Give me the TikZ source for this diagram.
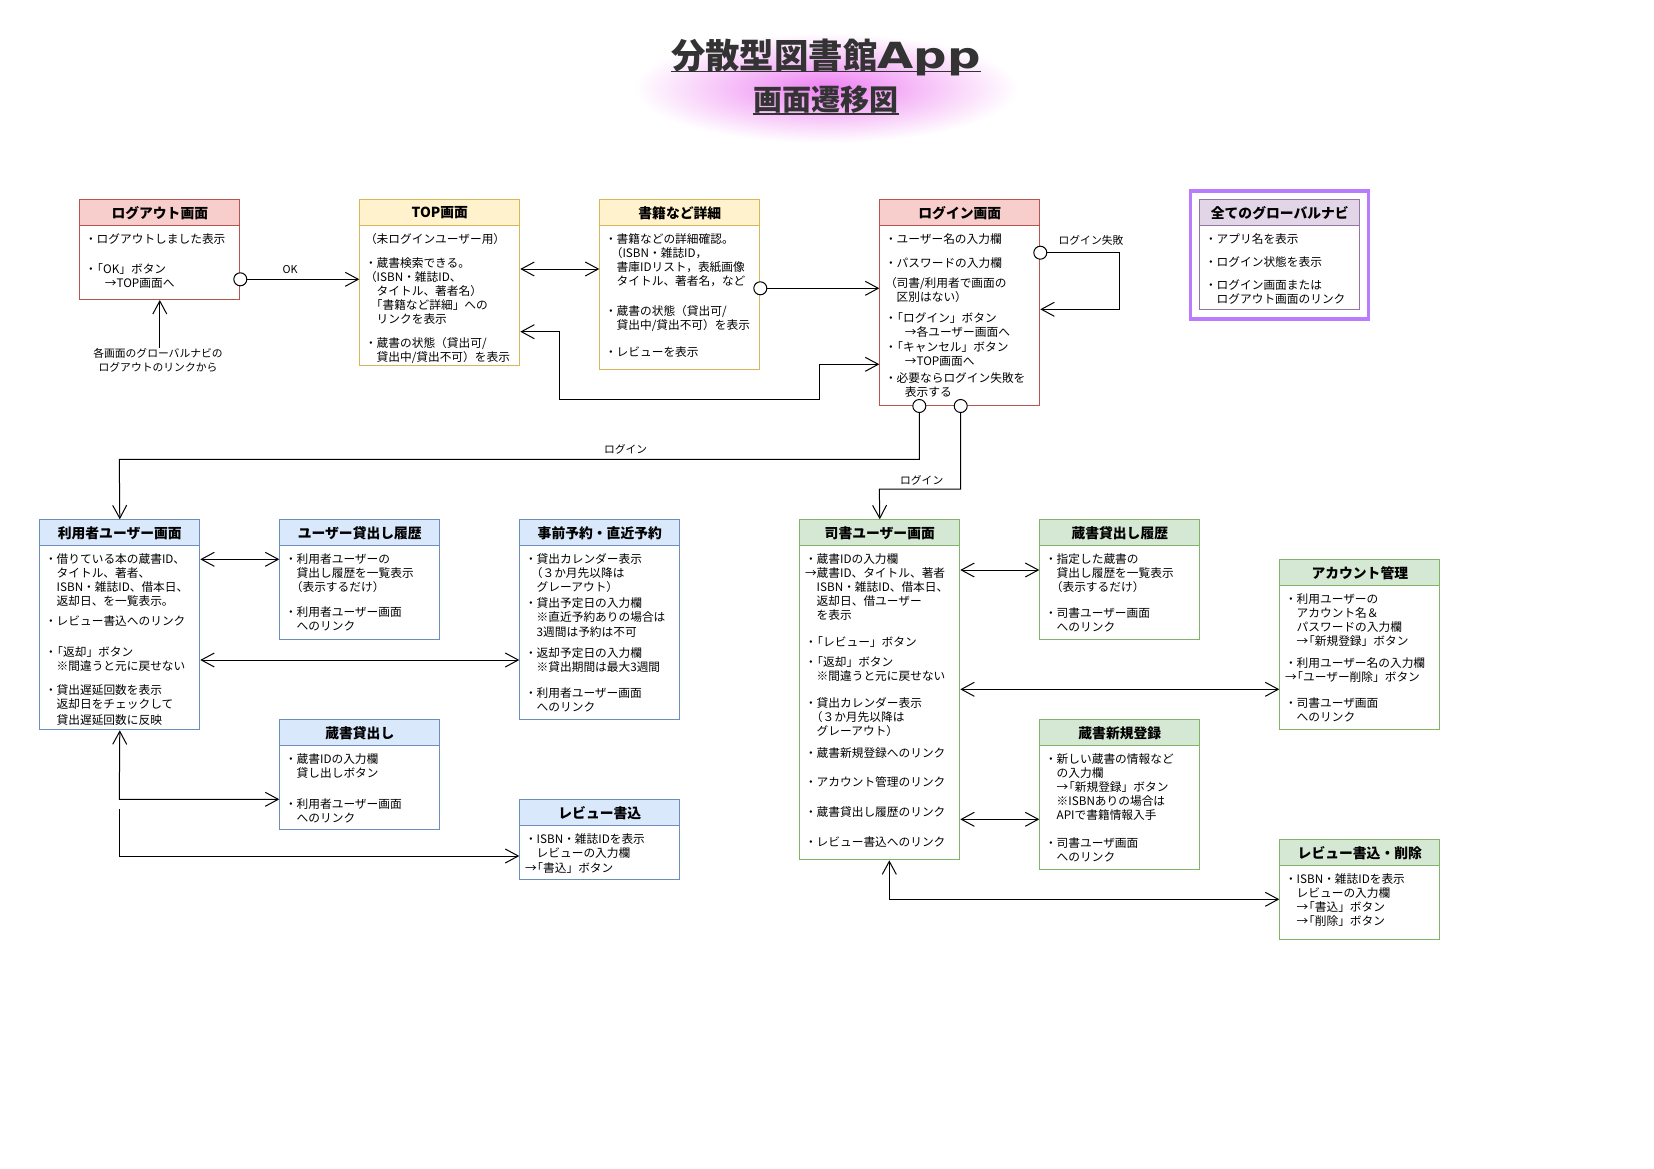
\documentclass[tikz,border=0pt]{standalone}
\usepackage{fontspec}
\usepackage{graphicx}
\setmainfont{Noto Sans CJK JP}
\newfontfamily\titlelatin{DejaVu Sans}
\usetikzlibrary{arrows.meta,calc}
\definecolor{redF}{HTML}{F8CECC}\definecolor{redS}{HTML}{B85450}
\definecolor{yelF}{HTML}{FFF2CC}\definecolor{yelS}{HTML}{D6B656}
\definecolor{bluF}{HTML}{DAE8FC}\definecolor{bluS}{HTML}{6C8EBF}
\definecolor{grnF}{HTML}{D5E8D4}\definecolor{grnS}{HTML}{82B366}
\definecolor{purF}{HTML}{E1D5E7}\definecolor{purS}{HTML}{9673A6}
\definecolor{frameP}{HTML}{B97CFF}
\definecolor{titleC}{HTML}{333333}
\definecolor{glowC}{HTML}{EE80F2}
\newcommand\txtfont{\fontsize{11.7}{14}\selectfont}
\newcommand\hdfont{\fontsize{13.8}{16}\selectfont\bfseries}
\newcommand\lbfont{\fontsize{10.8}{14}\selectfont}
\newcommand\myind{\hspace*{1em}}
\newcommand\hind{\hspace*{0.5em}}
\newcommand\aind{\hspace*{1.7em}}
\newcommand\lbk{\kern-0.45em「}
\newcommand\umlbox[8]{%
  \node[hdr,#2,minimum width={#5-#3},anchor=north west] (#1-h) at (#3,#4) {#7};
  \node[#2,bodybox,minimum width={#5-#3},minimum height={#6-#4-26},anchor=north west] (#1) at ({#3},{#4+26}) {};
  \node[bodytxt] (#1-t) at ({#3+5.5},{#4+33.4}) {\rule{0pt}{11pt}#8};
}
\begin{document}
\begin{tikzpicture}[x=1pt,y=-1pt,
  hdr/.style={line width=1pt,inner sep=0pt,minimum height=26pt,font=\hdfont,text=black},
  bodybox/.style={fill=white,line width=1pt,inner sep=0pt},
  bodytxt/.style={anchor=north west,align=left,inner sep=0pt,font=\txtfont,text=black},
  redc/.style={draw=redS,fill=redF},
  yelc/.style={draw=yelS,fill=yelF},
  bluc/.style={draw=bluS,fill=bluF},
  grnc/.style={draw=grnS,fill=grnF},
  purc/.style={draw=purS,fill=purF},
  conn/.style={line width=1pt,draw=black},
  one/.style={conn,-{Straight Barb[length=13pt,width=14pt]}},
  two/.style={conn,{Straight Barb[length=13pt,width=14pt]}-{Straight Barb[length=13pt,width=14pt]}},
  startc/.style={circle,draw=black,fill=white,line width=1pt,minimum size=13pt,inner sep=0pt},
  lbl/.style={font=\lbfont,inner sep=0pt,text=black}]
\fill[white] (0,0) rectangle (1654,1169);
\useasboundingbox (0,0) rectangle (1654,1169);
% title glow
\shade[inner color=glowC,outer color=white] (826,88) ellipse [x radius=192,y radius=55];
\node[anchor=base,inner sep=0pt,text=titleC,font=\fontsize{34.4}{40}\selectfont\bfseries] (title) at (826,69)
  {分散型図書館{\titlelatin\fontsize{36}{40}\selectfont\bfseries\scalebox{1.3}[1]{App}}};
\node[anchor=base,inner sep=0pt,text=titleC,font=\fontsize{29}{34}\selectfont\bfseries] (subtitle) at (826,111) {画面遷移図};
\draw[titleC,line width=1.6pt] ($(title.base west)+(0,2.7)$) -- ($(title.base east)+(0,2.7)$);
\draw[titleC,line width=1.6pt] ($(subtitle.base west)+(0,3.3)$) -- ($(subtitle.base east)+(0,3.3)$);

% global navi frame
\node[draw=frameP,line width=3.5pt,inner sep=0pt,minimum width=178.4,minimum height=127.7] (navframe) at (1279.5,254.9) {};

\umlbox{logout}{redc}{79.3}{199.3}{239.3}{299}{ログアウト画面}{%
・ログアウトしました表示\\[16pt]
・\lbk OK」ボタン\\
\aind →TOP画面へ}
\umlbox{topscr}{yelc}{359.3}{199.3}{519.3}{365}{TOP画面}{%
（未ログインユーザー用）\\[9.4pt]
・蔵書検索できる。\\
（ISBN・雑誌ID、\\
\myind タイトル、著者名）\\
\hind 「書籍など詳細」への\\
\myind リンクを表示\\[10.6pt]
・蔵書の状態（貸出可/\\
\myind 貸出中/貸出不可）を表示}
\umlbox{book}{yelc}{599.3}{199.3}{759.3}{369}{書籍など詳細}{%
・書籍などの詳細確認。\\
\hind（ISBN・雑誌ID，\\
\myind 書庫IDリスト，表紙画像\\
\myind タイトル、著者名，など\\[16pt]
・蔵書の状態（貸出可/\\
\myind 貸出中/貸出不可）を表示\\[12.6pt]
・レビューを表示}
\umlbox{login}{redc}{879.3}{199.3}{1039.3}{405}{ログイン画面}{%
・ユーザー名の入力欄\\[9.4pt]
・パスワードの入力欄\\[6pt]
（司書/利用者で画面の\\
\myind 区別はない）\\[7pt]
・\lbk ログイン」ボタン\\
\aind →各ユーザー画面へ\\[1.6pt]
・\lbk キャンセル」ボタン\\
\aind →TOP画面へ\\[2.6pt]
・必要ならログイン失敗を\\
\aind 表示する}
\umlbox{nav}{purc}{1199.3}{199.3}{1359.3}{309.3}{全てのグローバルナビ}{%
・アプリ名を表示\\[8.7pt]
・ログイン状態を表示\\[9pt]
・ログイン画面または\\
\myind ログアウト画面のリンク}
\umlbox{user}{bluc}{39.3}{519.3}{199.3}{729.3}{利用者ユーザー画面}{%
・借りている本の蔵書ID、\\
\myind タイトル、著者、\\
\myind ISBN・雑誌ID、借本日、\\
\myind 返却日、を一覧表示。\\[6pt]
・レビュー書込へのリンク\\[16.6pt]
・\lbk 返却」ボタン\\
\myind ※間違うと元に戻せない\\[10.4pt]
・貸出遅延回数を表示\\
\myind 返却日をチェックして\\[2pt]
\myind 貸出遅延回数に反映}
\umlbox{uhist}{bluc}{279.3}{519.3}{439.3}{639}{ユーザー貸出し履歴}{%
・利用者ユーザーの\\
\myind 貸出し履歴を一覧表示\\
\hind（表示するだけ）\\[10.4pt]
・利用者ユーザー画面\\
\myind へのリンク}
\umlbox{resv}{bluc}{519.3}{519.3}{679.3}{719.3}{事前予約・直近予約}{%
・貸出カレンダー表示\\
\hind（３か月先以降は\\
\myind グレーアウト）\\[1.4pt]
・貸出予定日の入力欄\\
\myind ※直近予約ありの場合は\\[1pt]
\myind 3週間は予約は不可\\[7pt]
・返却予定日の入力欄\\
\myind ※貸出期間は最大3週間\\[12pt]
・利用者ユーザー画面\\
\myind へのリンク}
\umlbox{lend}{bluc}{279.3}{719.3}{439.3}{829}{蔵書貸出し}{%
・蔵書IDの入力欄\\
\myind 貸し出しボタン\\[16.6pt]
・利用者ユーザー画面\\
\myind へのリンク}
\umlbox{review}{bluc}{519.3}{799.3}{679.3}{879}{レビュー書込}{%
・ISBN・雑誌IDを表示\\
\myind レビューの入力欄\\[0.6pt]
→\lbk 書込」ボタン}
\umlbox{lib}{grnc}{799.3}{519.3}{959.3}{859.3}{司書ユーザー画面}{%
・蔵書IDの入力欄\\
→蔵書ID、タイトル、著者\\
\myind ISBN・雑誌ID、借本日、\\
\myind 返却日、借ユーザー\\
\myind を表示\\[12.7pt]
・\lbk レビュー」ボタン\\[6pt]
・\lbk 返却」ボタン\\
\myind ※間違うと元に戻せない\\[12.7pt]
・貸出カレンダー表示\\
\hind（３か月先以降は\\
\myind グレーアウト）\\[8pt]
・蔵書新規登録へのリンク\\[15.3pt]
・アカウント管理のリンク\\[15.7pt]
・蔵書貸出し履歴のリンク\\[16pt]
・レビュー書込へのリンク}
\umlbox{lhist}{grnc}{1039.3}{519.3}{1199.3}{639.3}{蔵書貸出し履歴}{%
・指定した蔵書の\\
\myind 貸出し履歴を一覧表示\\
\hind（表示するだけ）\\[12pt]
・司書ユーザー画面\\
\myind へのリンク}
\umlbox{newbook}{grnc}{1039.3}{719.3}{1199.3}{869.3}{蔵書新規登録}{%
・新しい蔵書の情報など\\
\myind の入力欄\\
\myind →\lbk 新規登録」ボタン\\
\myind ※ISBNありの場合は\\
\myind APIで書籍情報入手\\[13.7pt]
・司書ユーザ画面\\
\myind へのリンク}
\umlbox{acct}{grnc}{1279.3}{559.3}{1439.3}{729.3}{アカウント管理}{%
・利用ユーザーの\\
\myind アカウント名＆\\
\myind パスワードの入力欄\\
\myind →\lbk 新規登録」ボタン\\[8pt]
・利用ユーザー名の入力欄\\
→\lbk ユーザー削除」ボタン\\[12pt]
・司書ユーザ画面\\
\myind へのリンク}
\umlbox{rvdel}{grnc}{1279.3}{839.3}{1439.3}{939}{レビュー書込・削除}{%
・ISBN・雑誌IDを表示\\
\myind レビューの入力欄\\
\myind →\lbk 書込」ボタン\\
\myind →\lbk 削除」ボタン}

% connectors
\draw[one] (logout.east |- 0,279.3) -- (topscr.west |- 0,279.3);
\node[startc] (c1) at (logout.east |- 0,279.3) {};
\node[lbl] (lok) at (290,270) {OK};

\node[lbl,align=center] (navtxt) at (158,360) {各画面のグローバルナビの\\ログアウトのリンクから};
\draw[one] (navtxt.north -| logout.south) -- (logout.south);

\draw[two] (topscr.east |- 0,269) -- (book.west |- 0,269);

\draw[one] (book.east |- 0,288.3) -- (login.west |- 0,288.3);
\node[startc] (c2) at (book.east |- 0,288.3) {};

\draw[two] (topscr.east |- 0,331.7) -- (559.3,331.7) -- (559.3,399.3) -- (819.3,399.3) -- (819.3,364.3) -- (login.west |- 0,364.3);

\draw[one] (login.east |- 0,252.7) -- (1119,252.7) -- (1119,309.3) -- (login.east |- 0,309.3);
\node[startc] (c3) at (login.east |- 0,252.7) {};
\node[lbl] (lfail) at (1091,240) {ログイン失敗};

\draw[one] (login.south -| 919.3,0) -- (919.3,459.3) -- (119.3,459.3) -- (user-h.north);
\node[startc] (c4) at (login.south -| 919.3,0) {};
\node[lbl] (llog1) at (625.6,449.4) {ログイン};

\draw[one] (login.south -| 960.7,0) -- (960.7,489) -- (879.3,489) -- (lib-h.north);
\node[startc] (c5) at (login.south -| 960.7,0) {};
\node[lbl] (llog2) at (921.7,480) {ログイン};

\draw[two] (user.east |- 0,559.3) -- (uhist.west |- 0,559.3);
\draw[two] (user.east |- 0,660) -- (resv.west |- 0,660);
\draw[two] (user.south) -- (119.3,799.3) -- (lend.west |- 0,799.3);
\coordinate (rvsrc) at (119.3,809.3);
\draw[one] (rvsrc) -- (119.3,856) -- (review.west |- 0,856);

\draw[two] (lib.east |- 0,570) -- (lhist.west |- 0,570);
\draw[two] (lib.east |- 0,689.3) -- (acct.west |- 0,689.3);
\draw[two] (lib.east |- 0,819.3) -- (newbook.west |- 0,819.3);
\draw[two] (lib.south -| 889.3,0) -- (889.3,899.3) -- (rvdel.west |- 0,899.3);
\end{tikzpicture}
\end{document}
